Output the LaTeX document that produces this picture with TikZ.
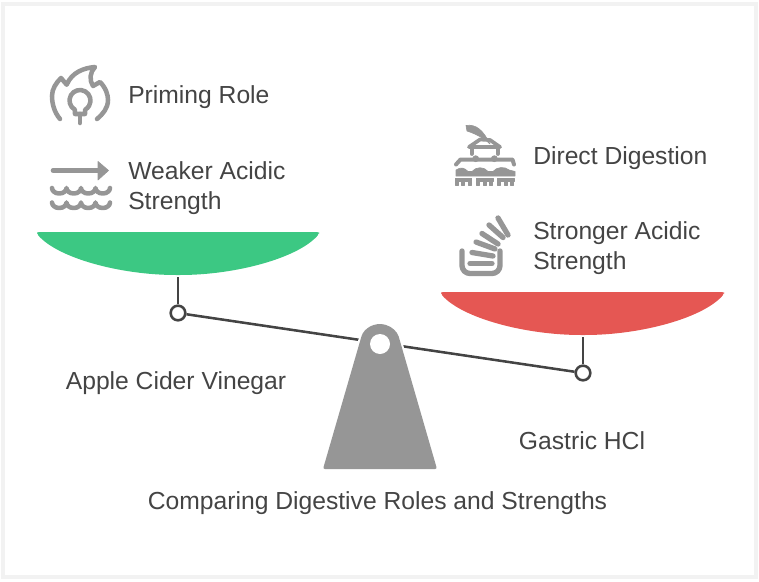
\documentclass[tikz,border=0pt]{standalone}
\usepackage{fontspec}
\setmainfont{Liberation Sans}
\definecolor{inkgray}{HTML}{444444}
\definecolor{icongray}{HTML}{969696}
\definecolor{pangreen}{HTML}{3CC883}
\definecolor{panred}{HTML}{E55753}
\definecolor{framegray}{HTML}{F2F2F2}
\tikzset{
  textlabel/.style={text=inkgray,font=\fontsize{18.5}{22.5}\selectfont,inner sep=0pt,align=left},
  pivot/.style={draw=inkgray,line width=1.9pt,circle,fill=white,minimum size=11pt,inner sep=0pt},
  beam/.style={draw=inkgray,line width=1.9pt},
  icon/.style={draw=icongray,line width=3.4pt,line cap=round,line join=round},
  iconfill/.style={fill=icongray,draw=icongray,line width=.5pt,line join=round}
}
\begin{document}
\begin{tikzpicture}[x=.75pt,y=-.75pt]
\useasboundingbox (0,0) rectangle (759,581);
\draw[framegray,line width=3pt] (3,4) rectangle (756,577);
% pans
\fill[pangreen,rounded corners=1.5pt] (37,232)--(319,232)--(319,234) .. controls (298,258) and (236,275) .. (178,275) .. controls (120,275) and (58,258) .. (37,234)--cycle;
\fill[panred,rounded corners=1.5pt] (441,292)--(724,292)--(724,294) .. controls (703,318) and (641,335) .. (583,335) .. controls (525,335) and (462,318) .. (441,294)--cycle;
\coordinate (greenbottom) at (178,277);
\coordinate (redbottom) at (583,337);
\node[pivot] (leftpivot) at (178,313){};
\node[pivot] (rightpivot) at (583,373){};
\draw[beam] (greenbottom)--(leftpivot);
\draw[beam] (redbottom)--(rightpivot);
\draw[beam] (leftpivot)--(rightpivot);
% fulcrum
\draw[white,line width=3pt] (360.8,338.6) arc (195.8:344.2:20) -- (437,469)--(323,469)--cycle;
\fill[icongray,rounded corners=1.5pt] (360.8,338.6) arc (195.8:344.2:20) -- (437,469)--(323,469)--cycle;
\node[circle,fill=white,minimum size=15pt,inner sep=0pt] (hole) at (380,344){};
% flame and bulb
\draw[icon] (60,119) .. controls (54,112) and (52,103) .. (52,96) .. controls (52,89) and (56,83) .. (61,78) -- (66.7,84.7) .. controls (72,72) and (84,68) .. (95,67) .. controls (90,72) and (89,80) .. (93,86) -- (100,82) .. controls (106,88) and (108,95) .. (108,100) .. controls (108,108) and (103,114) .. (97,119);
\draw[icon] (75,114)--(74.75,109.6) arc (120:420:10.5)--(85,114)--cycle;
\draw[icon] (80,114)--(80,123);
% arrow and waves
\draw[icon] (53,170.5)--(98,170.5);
\fill[iconfill] (98,161.5)--(108.5,170.5)--(98,180)--cycle;
\foreach \y in {188,202.5}{
  \draw[icon] (52,\y) arc (180:0:7.25 and 5.5) arc (180:0:7.25 and 5.5) arc (180:0:7.25 and 5.5) arc (180:0:7.25 and 5.5);
}
% shower roof
\fill[iconfill] (466,125.5) .. controls (476,124) and (483,130) .. (490,144) .. controls (484,138) and (476,134) .. (467,131)--cycle;
\draw[icon,line width=2.8pt] (469,147)--(480,139.5)--(490,140)--(500,147)--cycle;
\draw[icon,line width=2.8pt] (471.7,147)--(471.7,154);
\draw[icon,line width=2.8pt] (497.7,147)--(497.7,154);
\draw[icon,line width=3pt] (456,164.5)--(460.5,159.5)--(512.5,159.5)--(514,164.5);
\fill[iconfill] (475.7,158.7) circle (3);
\fill[iconfill] (494.3,158.7) circle (3);
\fill[iconfill] (456,176)--(456,170) .. controls (461,167) and (464,167.5) .. (468,171.5)--(472,171.5) .. controls (476,166.5) and (484,166.5) .. (488,171.5)--(493,171.5) .. controls (497,166.5) and (505,166.5) .. (509,170)--(515,171.5)--(515,176)--cycle;
\foreach \x in {455,476.7,497.7}{
  \fill[iconfill] (\x,178) rectangle (\x+16.5,181);
  \foreach \d in {0,6.5,13}{
    \fill[iconfill] (\x+\d,181) rectangle (\x+\d+3,185.3);
  }
}
% stack
\draw[icon,line width=4pt,rounded corners=6pt] (462,251)--(462,273.5)--(500,273.5)--(500,251);
\draw[icon,line width=4pt] (470,263.5)--(492,263.5);
\draw[icon,line width=4pt] (472,252.5)--(493,256);
\draw[icon,line width=4pt] (476,242)--(495,249);
\draw[icon,line width=4pt] (482,233.5)--(498,244);
\draw[icon,line width=4pt] (489,225)--(503,237.5);
\draw[icon,line width=4pt] (498,218)--(508,235);
% texts
\node[textlabel,anchor=base west] (priming) at (128,104){Priming Role};
\node[textlabel,anchor=base west] (weaker) at (128,179){Weaker Acidic};
\node[textlabel,anchor=base west] (weakertwo) at (128,209){Strength};
\node[textlabel,anchor=base west] (direct) at (533,164){Direct Digestion};
\node[textlabel,anchor=base west] (stronger) at (533,239){Stronger Acidic};
\node[textlabel,anchor=base west] (strongertwo) at (533,269){Strength};
\node[textlabel,anchor=base] (vinegar) at (176,389){Apple Cider Vinegar};
\node[textlabel,anchor=base] (hcl) at (582,449){Gastric HCl};
\node[textlabel,anchor=base] (title) at (377.5,509){Comparing Digestive Roles and Strengths};
\end{tikzpicture}
\end{document}
